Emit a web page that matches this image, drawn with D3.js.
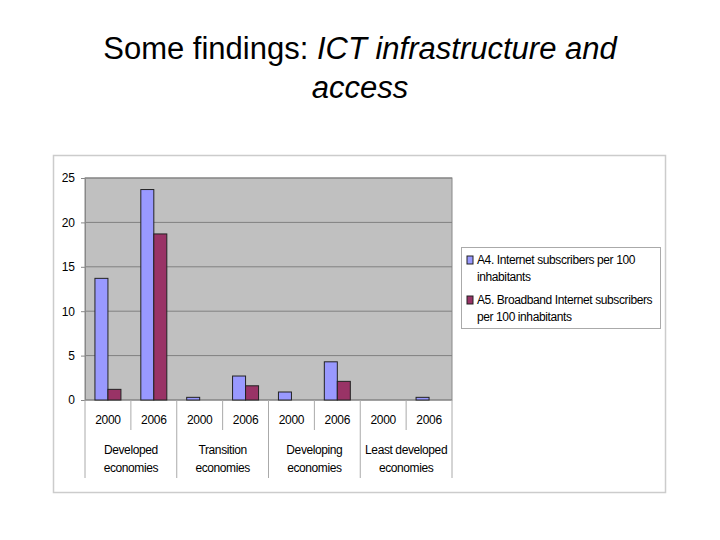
<!DOCTYPE html><html><head><meta charset="utf-8"><script src="https://cdn.jsdelivr.net/npm/d3@7"></script>
<style>body{margin:0;background:#fff}</style></head><body><svg id="c" width="720" height="540"></svg>
<script>
const groups=["Developed economies","Transition economies","Developing economies","Least developed economies"];
const groupLines=[["Developed","economies"],["Transition","economies"],["Developing","economies"],["Least developed","economies"]];
const years=["2000","2006"];
const seriesNames=["A4. Internet subscribers per 100 inhabitants","A5. Broadband Internet subscribers per 100 inhabitants"];
const a4=[13.7,23.7,0.3,2.7,0.9,4.3,0,0.3];
const a5=[1.2,18.7,0,1.6,0,2.1,0,0];
const yTicks=[0,5,10,15,20,25];
const colors=["#9999ff","#993366"];
const svg=d3.select("#c");
const F="Arial, Liberation Sans, sans-serif";
svg.append("text").attr("x",360).attr("y",59).attr("text-anchor","middle").attr("font-family",F).attr("font-size",31)
 .html('Some findings: <tspan font-style="italic">ICT infrastructure and</tspan>');
svg.append("text").attr("x",360).attr("y",98).attr("text-anchor","middle").attr("font-family",F).attr("font-size",31).attr("font-style","italic").text("access");
svg.append("rect").attr("x",53.5).attr("y",155.5).attr("width",612).attr("height",337).attr("fill","#fff").attr("stroke","#ccc").attr("stroke-width",1.5);
const L=85,R=452,T=178,B=400;
const cats=d3.range(8);
const x=d3.scaleBand().domain(cats).range([L,R]);
const y=d3.scaleLinear().domain([0,25]).range([B,T]);
svg.append("rect").attr("x",L).attr("y",T).attr("width",R-L).attr("height",B-T).attr("fill","#c0c0c0").attr("stroke","#888");
yTicks.forEach(t=>{svg.append("line").attr("x1",L).attr("x2",R).attr("y1",y(t)).attr("y2",y(t)).attr("stroke","#808080");});
const ya=svg.append("g").attr("transform",`translate(${L},0)`).call(d3.axisLeft(y).tickValues(yTicks).tickSize(4).tickPadding(6));
ya.selectAll("text").attr("font-family",F).attr("font-size",12).attr("fill","#000");
ya.selectAll("line,path").attr("stroke","#888");
const bw=13;
[a4,a5].forEach((s,si)=>{
 svg.selectAll(null).data(s).enter().append("rect")
  .attr("x",(d,i)=>x(i)+x.bandwidth()/2-bw+si*bw).attr("width",bw)
  .attr("y",d=>y(d)).attr("height",d=>B-y(d)).attr("fill",colors[si]).attr("stroke","#222").attr("stroke-width",1);
});
cats.forEach(i=>{
 svg.append("text").attr("x",x(i)+x.bandwidth()/2).attr("y",424).attr("text-anchor","middle").attr("font-family",F).attr("font-size",12).attr("letter-spacing",-0.3).text(years[i%2]);
 const xl=x(i);
 svg.append("line").attr("x1",xl).attr("x2",xl).attr("y1",B).attr("y2",i%2===0?478:430).attr("stroke","#aaa");
});
svg.append("line").attr("x1",R).attr("x2",R).attr("y1",B).attr("y2",478).attr("stroke","#aaa");
groups.forEach((g,gi)=>{
 const cx=x(gi*2)+x.bandwidth();
 groupLines[gi].forEach((ln,k)=>svg.append("text").attr("x",cx).attr("y",454+k*18).attr("text-anchor","middle").attr("font-family",F).attr("font-size",12).attr("letter-spacing",-0.4).text(ln));
});
svg.append("rect").attr("x",461.5).attr("y",247.5).attr("width",199).attr("height",81).attr("fill","#fff").attr("stroke","#aaa");
const legLines=[["A4. Internet subscribers per 100","inhabitants"],["A5. Broadband Internet subscribers","per 100 inhabitants"]];
legLines.forEach((ls,i)=>{
 const ty=264+i*40;
 svg.append("rect").attr("x",467).attr("y",ty-8).attr("width",6).attr("height",8).attr("fill",colors[i]).attr("stroke","#222");
 ls.forEach((ln,k)=>svg.append("text").attr("x",477).attr("y",ty+k*17).attr("font-family",F).attr("font-size",12).attr("letter-spacing",-0.4).text(ln));
});
</script></body></html>
